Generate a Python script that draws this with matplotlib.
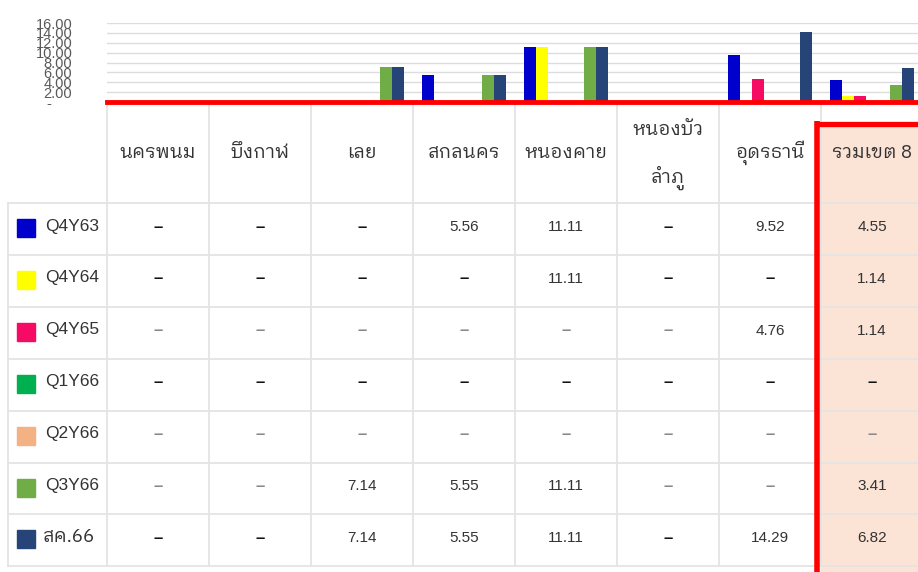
import numpy as np
import matplotlib.pyplot as plt
from matplotlib import font_manager
from matplotlib.ft2font import FT2Font


def find_thai_font():
    # หา font ที่มีอักษรไทย (ก = U+0E01), ถ้ามีแบบหัวกลมให้ใช้ก่อน
    found = []
    for f in font_manager.fontManager.ttflist:
        try:
            if 0x0E01 in FT2Font(f.fname).get_charmap():
                found.append(f.name)
        except Exception:
            pass
    for key in ['Looped', 'Tahoma', 'Loma', 'Garuda', 'Leelawadee', 'Sarabun', 'Norasi']:
        for name in found:
            if key in name:
                return name
    return found[0] if found else None


thai = find_thai_font()
fam = ['Liberation Sans'] + ([thai] if thai else []) + ['DejaVu Sans']
plt.rcParams['font.family'] = fam
thai_fam = ([thai] if thai else []) + ['Liberation Sans', 'DejaVu Sans']

# ข้อมูล
categories = ['นครพนม', 'บึงกาฬ', 'เลย', 'สกลนคร', 'หนองคาย', 'หนองบัว\nลำภู', 'อุดรธานี', 'รวมเขต 8']
series = ['Q4Y63', 'Q4Y64', 'Q4Y65', 'Q1Y66', 'Q2Y66', 'Q3Y66', 'สค.66']
q4y63 = [None, None, None, 5.56, 11.11, None, 9.52, 4.55]
q4y64 = [None, None, None, None, 11.11, None, None, 1.14]
q4y65 = [None, None, None, None, None, None, 4.76, 1.14]
q1y66 = [None, None, None, None, None, None, None, None]
q2y66 = [None, None, None, None, None, None, None, None]
q3y66 = [None, None, 7.14, 5.55, 11.11, None, None, 3.41]
aug66 = [None, None, 7.14, 5.55, 11.11, None, 14.29, 6.82]
values = [q4y63, q4y64, q4y65, q1y66, q2y66, q3y66, aug66]
yticks = [0, 2, 4, 6, 8, 10, 12, 14, 16]

colors = ['#0000CC', '#FFFF00', '#F50A64', '#00B050', '#F4B183', '#70AD47', '#264478']
dash_colors = ['#111111', '#111111', '#888888', '#111111', '#888888', '#888888', '#111111']

W, H = 918, 572
fig = plt.figure(figsize=(W / 100, H / 100), dpi=100)

# ตาราง (พิกัดพิกเซล)
tab = fig.add_axes([0, 0, 1, 1])
tab.set_xlim(0, W)
tab.set_ylim(H, 0)
tab.axis('off')

col_x0, col_w = 107, 102
head_top, head_bot, row_h = 104, 203, 51.9
n_cat = len(categories)
n_ser = len(series)
grid_c = '#e4e4e4'

# ช่องรวมเขต 8 สีพื้น
hx = col_x0 + 7 * col_w
tab.fill_between([hx, W], 125, H, color='#FBE3D5', zorder=0)

# เส้นตาราง
for i in range(n_ser + 1):
    y = head_bot + i * row_h
    tab.plot([8, W], [y, y], color=grid_c, lw=1.3, zorder=1)
tab.plot([8, 8], [head_bot, head_bot + n_ser * row_h], color=grid_c, lw=1.3, zorder=1)
for j in range(n_cat + 1):
    x = col_x0 + j * col_w
    tab.plot([x, x], [head_top, head_bot + n_ser * row_h], color=grid_c, lw=1.3, zorder=1)

# กรอบแดง
tab.plot([hx - 4, hx - 4], [121, H], color='#FF0000', lw=4, zorder=3, solid_capstyle='butt')
tab.plot([hx - 6, W], [123.5, 123.5], color='#FF0000', lw=3.8, zorder=3, solid_capstyle='butt')

# หัวตาราง
for j, name in enumerate(categories):
    cx = col_x0 + (j + 0.5) * col_w
    lines = name.split('\n')
    if len(lines) == 1:
        tab.text(cx, 153, name, ha='center', va='center', fontsize=13.5,
                 color='#333333', family=thai_fam)
    else:
        tab.text(cx, 130, lines[0], ha='center', va='center', fontsize=13.5,
                 color='#333333', family=thai_fam)
        tab.text(cx, 178, lines[1], ha='center', va='center', fontsize=13.5,
                 color='#333333', family=thai_fam)

# แถวข้อมูล
for i, (name, vals) in enumerate(zip(series, values)):
    ytop = head_bot + i * row_h
    yc = ytop + 24
    tab.add_patch(plt.Rectangle((17, yc - 8), 18, 18, color=colors[i], zorder=2))
    if name.isascii():
        tab.text(45, yc - 1, name, ha='left', va='center', fontsize=12.5, color='#333333')
    else:
        tab.text(43, yc - 1, name, ha='left', va='center', fontsize=13.5,
                 color='#333333', family=thai_fam)
    for j, v in enumerate(vals):
        cx = col_x0 + (j + 0.5) * col_w
        if v is None:
            tab.text(cx, yc, '–', ha='center', va='center', fontsize=12,
                     color=dash_colors[i], fontweight='bold')
        else:
            tab.text(cx, yc, f'{v:.2f}', ha='center', va='center', fontsize=11,
                     color='#333333')

# กราฟแท่ง
px = 4.93
ax = fig.add_axes([col_x0 / W, (H - 102) / H, n_cat * col_w / W, 16 * px / H])
ax.set_facecolor('none')
x = np.arange(n_cat)
bw = 12 / col_w
for i, vals in enumerate(values):
    v = [0 if a is None else a for a in vals]
    ax.bar(x + (i - 3) * bw, v, width=bw, color=colors[i], zorder=3)

ax.set_xlim(-0.5, n_cat - 0.5)
ax.set_ylim(0, 16)
ax.set_yticks(yticks)
ax.set_yticklabels(['-     '] + [f'{t:.2f}' for t in yticks[1:]])
ax.tick_params(axis='y', length=0, pad=25, labelsize=10.5, labelcolor='#595959')
ax.set_xticks([])
ax.yaxis.grid(True, color='#dddddd', lw=1)
ax.set_axisbelow(True)
for s in ['top', 'right', 'left']:
    ax.spines[s].set_visible(False)
ax.spines['bottom'].set_color('#FF0000')
ax.spines['bottom'].set_linewidth(3.5)
ax.spines['bottom'].set_zorder(4)

fig.savefig('out.png', dpi=100)
